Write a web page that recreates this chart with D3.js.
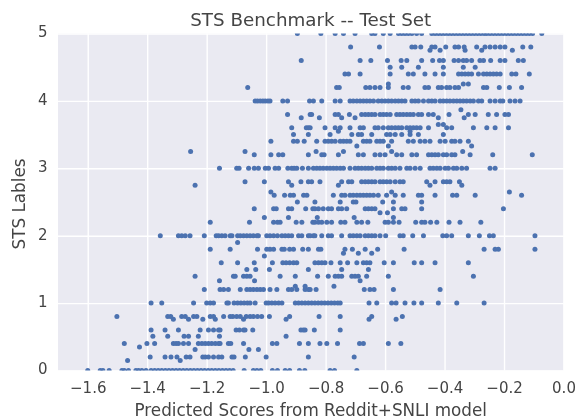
<!DOCTYPE html>
<html>
<head>
<script src="https://d3js.org/d3.v7.min.js" charset="utf-8"></script>
<style>
    body{
        margin:0;
        background:#fff;
        font-family:"DejaVu Sans";
    }
    svg{display:block;filter:blur(0.35px);}
</style>
</head>
<body>
<div id="chart"></div>
<script>
var xTicks = [-1.6,-1.4,-1.2,-1.0,-0.8,-0.6,-0.4,-0.2,0.0]
var yTicks = [0,1,2,3,4,5]
var titleText = "STS Benchmark -- Test Set"
var xLabel = "Predicted Scores from Reddit+SNLI model"
var yLabel = "STS Lables"

// one label level per entry, the scores seen at that level are at the same index below
var stsLabels = [0,0.15,0.2,0.31,0.35,0.4,0.51,0.6,0.76,0.8,1,1.2,1.25,1.33,1.4,1.5,1.6,1.7,1.74,1.8,1.9,2,2.2,2.27,2.34,2.4,2.5,2.6,2.65,2.75,2.8,3,3.2,3.25,3.33,3.4,3.5,3.55,3.6,3.65,3.75,3.8,3.87,4,4.2,4.25,4.4,4.5,4.6,4.75,4.8,5]
var predictedScores = [
    [-1.6,-1.558,-1.549,-1.528,-1.485,-1.477,-1.463,-1.438,-1.429,-1.418,-1.404,-1.387,-1.375,-1.363,-1.351,-1.339,-1.327,-1.315,-1.303,-1.291,-1.279,-1.267,-1.255,-1.243,-1.231,-1.219,-1.207,-1.195,-1.183,-1.171,-1.159,-1.147,-1.135,-1.123,-1.111,-1.074,-1.043,-1.031,-1.018,-.979,-.962,-.936,-.921,-.888,-.87,-.785,-.77,-.695],
    [-1.466,-1.289],
    [-1.39,-1.34,-1.32,-1.3,-1.269,-1.256,-1.213,-1.205,-1.194,-1.177,-1.16,-1.149,-1.115,-1.108,-1.07,-1,-.858,-.704],
    [-1.239,-1.058,-1.026],
    [-1.426],
    [-1.477,-1.401,-1.375,-1.312,-1.303,-1.295,-1.278,-1.261,-1.228,-1.216,-1.205,-1.194,-1.183,-1.171,-1.16,-1.155,-1.127,-1.119,-1.076,-.979,-.964,-.888,-.858,-.819,-.796,-.76,-.686,-.673,-.589,-.547],
    [-1.381,-1.331,-1.276,-1.261,-1.228,-1.157,-.933],
    [-1.387,-1.34,-1.295,-1.222,-1.194,-1.177,-1.16,-1.155,-1.101,-1.09,-1.076,-1.071,-1.045,-.883,-.869,-.875,-.838,-.751],
    [-1.312,-1.261,-1.213,-1.171,-1.076,-.933,-.654,-.563],
    [-1.502,-1.331,-1.321,-1.284,-1.272,-1.244,-1.233,-1.188,-1.177,-1.143,-1.121,-1.112,-1.099,-1.087,-1.067,-1.054,-1.043,-1.029,-1.015,-.989,-.921,-.822,-.751,-.645,-.542],
    [-1.387,-1.351,-1.244,-1.2,-1.188,-1.177,-1.132,-1.127,-1.108,-1.096,-1.085,-1.074,-1.063,-1.054,-1.037,-1,-.992,-.981,-.97,-.958,-.947,-.902,-.891,-.88,-.869,-.858,-.847,-.836,-.825,-.814,-.803,-.792,-.781,-.77,-.759,-.751,-.654,-.628,-.578,-.563,-.533,-.503,-.477,-.421,-.359,-.267],
    [-1.208,-1.155,-1.143,-1.127,-1.087,-1.065,-1.054,-1.043,-1.031,-1.02,-1.009,-.987,-.964,-.925,-.914,-.897,-.869,-.858,-.852,-.832,-.67,-.651,-.637,-.572,-.415],
    [-.902,-.869,-.772],
    [-1.157,-1.039,-.684],
    [-1.239,-1.11,-1.104,-1.076,-1.065,-1.054,-.953,-.902,-.827,-.791,-.768,-.757,-.746,-.712,-.701,-.69,-.662,-.589,-.303],
    [-1.065,-1.035,-.989,-.858,-.746,-.656],
    [-1.151,-1.096,-1.04,-.979,-.944,-.933,-.921,-.908,-.897,-.836,-.824,-.813,-.802,-.782,-.751,-.726,-.695,-.673,-.662,-.651,-.603,-.572,-.502,-.477,-.432,-.32],
    [-1.006],
    [-.74,-.69,-.645],
    [-1.188,-1.121,-1.029,-.998,-.987,-.975,-.947,-.939,-.921,-.908,-.877,-.858,-.824,-.816,-.735,-.71,-.667,-.625,-.536,-.267,-.23,-.219,-.096],
    [-1.096],
    [-1.356,-1.295,-1.284,-1.272,-1.256,-1.208,-1.168,-1.16,-1.149,-1.138,-1.121,-1.115,-1.096,-1.087,-1.076,-1.065,-1.054,-1.043,-1.031,-1.026,-.998,-.987,-.975,-.962,-.947,-.936,-.925,-.914,-.891,-.88,-.858,-.852,-.841,-.836,-.813,-.791,-.78,-.746,-.718,-.707,-.695,-.684,-.667,-.656,-.645,-.634,-.617,-.598,-.55,-.539,-.507,-.471,-.406,-.393,-.376,-.32,-.283,-.249,-.236,-.096],
    [-1.188,-1.056,-.975,-.962,-.953,-.899,-.88,-.843,-.836,-.824,-.813,-.796,-.78,-.749,-.735,-.695,-.679,-.658,-.6,-.589,-.572,-.553,-.497,-.477,-.466,-.447,-.426,-.385,-.348,-.278],
    [-1.006,-.925,-.828,-.704,-.572],
    [-.617,-.592],
    [-1.04,-.975,-.966,-.925,-.914,-.867,-.843,-.836,-.824,-.808,-.791,-.78,-.757,-.746,-.729,-.667,-.656,-.645,-.634,-.572,-.544,-.533,-.477,-.202],
    [-.895,-.836,-.751,-.707,-.698,-.608,-.572,-.477],
    [-.973,-.938,-.919,-.908,-.874,-.863,-.774,-.746,-.735,-.718,-.707,-.695,-.684,-.673,-.662,-.651,-.639,-.623,-.595,-.566,-.539,-.488,-.477,-.432,-.373,-.359,-.297,-.141],
    [-.984,-.578,-.182],
    [-1.239,-.914,-.757,-.449,-.342],
    [-1.071,-1.006,-.925,-.883,-.858,-.847,-.819,-.746,-.723,-.712,-.679,-.667,-.656,-.645,-.634,-.617,-.606,-.595,-.583,-.566,-.55,-.539,-.46,-.432,-.404,-.393,-.382,-.35],
    [-1.157,-1.099,-1.091,-1.059,-1.04,-1.026,-1.003,-.992,-.97,-.958,-.927,-.914,-.906,-.897,-.878,-.858,-.841,-.83,-.819,-.808,-.796,-.785,-.774,-.763,-.751,-.74,-.718,-.701,-.69,-.679,-.667,-.656,-.645,-.628,-.617,-.606,-.589,-.578,-.566,-.55,-.527,-.516,-.499,-.482,-.449,-.438,-.426,-.415,-.398,-.387,-.37,-.359,-.342,-.326,-.247,-.23],
    [-1.04,-.984,-.958,-.944,-.858,-.813,-.805,-.757,-.69,-.673,-.634,-.617,-.6,-.561,-.544,-.51,-.494,-.454,-.443,-.432,-.421,-.404,-.393,-.376,-.365,-.314,-.238,-.105],
    [-1.254,-1.071,-.832,-.74,-.578,-.339],
    [-.695,-.589,-.309],
    [-.984,-.908,-.895,-.872,-.83,-.802,-.791,-.78,-.768,-.751,-.74,-.729,-.718,-.673,-.662,-.651,-.628,-.617,-.606,-.578,-.522,-.505,-.482,-.466,-.449,-.415,-.398,-.376,-.365,-.348,-.32],
    [-.908,-.858,-.785,-.712,-.69,-.679,-.645,-.595,-.583,-.566,-.544,-.516,-.488,-.404],
    [-.757,-.516],
    [-.914,-.865,-.858,-.852,-.802,-.768,-.751,-.718,-.684,-.673,-.634,-.623,-.606,-.589,-.578,-.566,-.555,-.544,-.527,-.516,-.505,-.494,-.482,-.454,-.393,-.376,-.303,-.258,-.23,-.185],
    [-.421,-.404],
    [-.882,-.821,-.746,-.701,-.421,-.334],
    [-.928,-.852,-.847,-.768,-.757,-.72,-.679,-.667,-.656,-.645,-.634,-.617,-.606,-.595,-.583,-.561,-.55,-.539,-.527,-.516,-.505,-.488,-.477,-.454,-.438,-.385,-.32,-.297,-.253,-.225,-.197,-.185],
    [-.345],
    [-1.037,-1.029,-1.02,-1.011,-1.003,-.994,-.987,-.944,-.928,-.854,-.841,-.813,-.768,-.751,-.718,-.707,-.695,-.684,-.673,-.662,-.651,-.639,-.623,-.611,-.6,-.589,-.578,-.566,-.555,-.544,-.533,-.51,-.499,-.488,-.471,-.454,-.443,-.432,-.415,-.404,-.393,-.382,-.37,-.359,-.348,-.337,-.326,-.314,-.303,-.286,-.275,-.247,-.23,-.213,-.204,-.18,-.163,-.146],
    [-1.062,-.763,-.754,-.665,-.651,-.634,-.617,-.589,-.539,-.522,-.466,-.454,-.421,-.41,-.393,-.382,-.365,-.353,-.269,-.258,-.216,-.182,-.141],
    [-.589,-.337,-.32],
    [-.735,-.723,-.684,-.583,-.522,-.505,-.466,-.432,-.404,-.353,-.342,-.331,-.32,-.309,-.286,-.269,-.258,-.247,-.236,-.225,-.213,-.174,-.16,-.115],
    [-.583,-.544,-.488,-.404,-.337,-.297],
    [-.882,-.684,-.648,-.592,-.546,-.527,-.477,-.44,-.417,-.404,-.368,-.353,-.337,-.326,-.309,-.281,-.269,-.245,-.213,-.197,-.152,-.135],
    [-.449,-.415,-.331,-.275,-.172],
    [-.716,-.619,-.51,-.499,-.48,-.443,-.432,-.396,-.365,-.353,-.334,-.292,-.264,-.247,-.23,-.213,-.197,-.137,-.11],
    [-.895,-.816,-.768,-.74,-.701,-.645,-.634,-.606,-.583,-.555,-.544,-.533,-.522,-.51,-.494,-.477,-.443,-.432,-.421,-.41,-.399,-.388,-.377,-.366,-.355,-.344,-.333,-.322,-.311,-.3,-.289,-.278,-.267,-.258,-.247,-.236,-.225,-.214,-.203,-.192,-.181,-.17,-.159,-.148,-.137,-.126,-.115,-.104,-.073]
]

var width = 575, height = 416
var margin = {top:33.5,right:11.5,bottom:45.5,left:58}
var plotW = width-margin.left-margin.right
var plotH = height-margin.top-margin.bottom
var textColor = "#444"

var xScale = d3.scaleLinear().domain([-1.7,0]).range([0,plotW])
var yScale = d3.scaleLinear().domain([0,5]).range([plotH,0])

var svg = d3.select("#chart").append("svg")
    .attr("width",width)
    .attr("height",height)

svg.append("defs").append("clipPath").attr("id","plotClip")
    .append("rect").attr("width",plotW).attr("height",plotH)

var g = svg.append("g").attr("transform","translate("+margin.left+","+margin.top+")")

g.append("rect").attr("width",plotW).attr("height",plotH).attr("fill","#eaeaf2")

var xAxis = g.append("g").attr("transform","translate(0,"+plotH+")")
    .call(d3.axisBottom(xScale).tickValues(xTicks).tickFormat(d3.format(".1f")).tickSize(0).tickPadding(0))
var yAxis = g.append("g")
    .call(d3.axisLeft(yScale).tickValues(yTicks).tickFormat(d3.format("d")).tickSize(0).tickPadding(10.5))

xAxis.selectAll("line").attr("y2",-plotH).attr("stroke","#fff").attr("stroke-width",1.4)
xAxis.selectAll("text").attr("y",12).attr("dy","0.71em")
yAxis.selectAll("line").attr("x2",plotW).attr("stroke","#fff").attr("stroke-width",1.4)
yAxis.selectAll("text").attr("y",-1.5)
xAxis.select(".domain").remove()
yAxis.select(".domain").remove()
svg.selectAll(".tick text").attr("fill",textColor).style("font-family","DejaVu Sans").style("font-size","15px")

var points = []
stsLabels.forEach(function(label,i){
    predictedScores[i].forEach(function(score){
        points.push({x:score,y:label})
    })
})

g.append("g").attr("clip-path","url(#plotClip)")
    .selectAll("circle")
    .data(points)
    .enter()
    .append("circle")
    .attr("cx",function(d){return xScale(d.x)})
    .attr("cy",function(d){return yScale(d.y)})
    .attr("r",2.5)
    .attr("fill","#4c72b0")

svg.append("text").attr("x",margin.left+plotW/2).attr("y",26)
    .attr("text-anchor","middle").attr("fill",textColor)
    .style("font-size","18.3px").text(titleText)
svg.append("text").attr("x",margin.left+plotW/2).attr("y",416)
    .attr("text-anchor","middle").attr("fill",textColor)
    .style("font-size","16.8px").text(xLabel)
svg.append("text").attr("transform","translate(25,204) rotate(-90)")
    .attr("text-anchor","middle").attr("fill",textColor)
    .style("font-size","16.8px").text(yLabel)
</script>
</body>
</html>
